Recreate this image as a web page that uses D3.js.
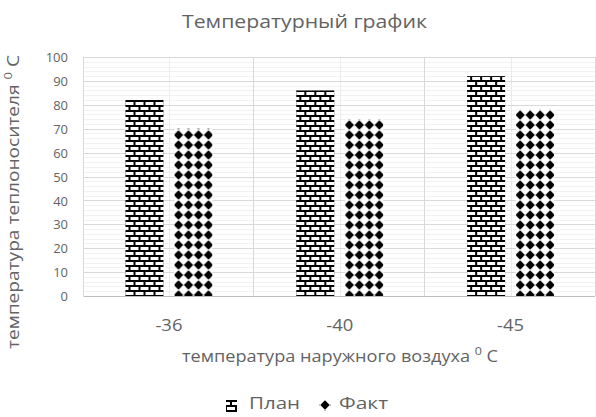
<!DOCTYPE html>
<html>
<head>
<meta charset="utf-8">
<script src="https://cdn.jsdelivr.net/npm/d3@7"></script>
<style>
  html, body { margin: 0; padding: 0; background: #fff; }
  svg { display: block; }
  text { font-family: "Open Sans", "Noto Sans", sans-serif; fill: #636363; }
</style>
</head>
<body>
<svg id="chart" width="596" height="417"></svg>
<script>
// Outdoor air temperature categories and coolant temperatures
const categories = ["-36", "-40", "-45"];
const seriesNames = ["План", "Факт"];
const planValues = [82, 86, 92];
const factValues = [70, 74, 78];
const yTicks = [0, 10, 20, 30, 40, 50, 60, 70, 80, 90, 100];

const svg = d3.select("#chart");
const plot = { left: 83.5, right: 596, top: 57, bottom: 296 };

// Fill patterns: horizontal brick and diamond grid
const defs = svg.append("defs");
const brick = defs.append("pattern")
  .attr("id", "brick").attr("patternUnits", "userSpaceOnUse")
  .attr("width", 10).attr("height", 10);
brick.append("rect").attr("width", 10).attr("height", 10).attr("fill", "#fff");
brick.append("path")
  .attr("d", "M0,1 H10 M0,6 H10 M1,1 V6 M6,6 V11")
  .attr("stroke", "#000").attr("stroke-width", 2).attr("fill", "none")
  .attr("shape-rendering", "crispEdges");

const diamond = defs.append("pattern")
  .attr("id", "diamond").attr("patternUnits", "userSpaceOnUse")
  .attr("width", 10).attr("height", 10);
diamond.append("rect").attr("width", 10).attr("height", 10).attr("fill", "#fff");
diamond.append("path")
  .attr("d", "M5,0.3 L9.7,5 L5,9.7 L0.3,5 Z")
  .attr("fill", "#000");

const fills = ["url(#brick)", "url(#diamond)"];

const x0 = d3.scaleBand().domain(categories).range([plot.left, plot.right])
  .paddingInner(0).paddingOuter(0);
const x1 = d3.scaleBand().domain(seriesNames).range([0, x0.bandwidth()])
  .paddingInner(0.224).paddingOuter(0.857);
const y = d3.scaleLinear().domain([0, 100]).range([plot.bottom, plot.top]);

const px = v => Math.round(v) + 0.5;

// Minor horizontal gridlines every 2
const g = svg.append("g");
g.selectAll("line.minor")
  .data(d3.range(0, 101, 2).filter(v => v % 10 !== 0))
  .join("line")
  .attr("x1", plot.left).attr("x2", plot.right - 1)
  .attr("y1", d => px(y(d))).attr("y2", d => px(y(d)))
  .attr("stroke", "#f2f2f2");

// Vertical gridlines at category centres (minor) and boundaries (major)
g.selectAll("line.vminor")
  .data(categories)
  .join("line")
  .attr("x1", d => px(x0(d) + x0.bandwidth() / 2))
  .attr("x2", d => px(x0(d) + x0.bandwidth() / 2))
  .attr("y1", plot.top).attr("y2", plot.bottom)
  .attr("stroke", "#ececec");

g.selectAll("line.vmajor")
  .data(d3.range(categories.length + 1))
  .join("line")
  .attr("x1", i => Math.round(plot.left + i * x0.bandwidth()) - 0.5)
  .attr("x2", i => Math.round(plot.left + i * x0.bandwidth()) - 0.5)
  .attr("y1", plot.top).attr("y2", plot.bottom)
  .attr("stroke", "#d9d9d9");

// Major horizontal gridlines
g.selectAll("line.major")
  .data(yTicks)
  .join("line")
  .attr("x1", plot.left).attr("x2", plot.right - 1)
  .attr("y1", d => px(y(d))).attr("y2", d => px(y(d)))
  .attr("stroke", d => d === 0 ? "#bfbfbf" : "#d9d9d9");

// Bars
const rows = categories.map((c, i) => ({ cat: c, values: [planValues[i], factValues[i]] }));
svg.append("g").selectAll("g")
  .data(rows)
  .join("g")
  .attr("transform", d => `translate(${x0(d.cat)},0)`)
  .selectAll("rect")
  .data(d => d.values.map((v, k) => ({ name: seriesNames[k], value: v, k })))
  .join("rect")
  .attr("x", d => x1(d.name))
  .attr("width", x1.bandwidth())
  .attr("y", d => y(d.value))
  .attr("height", d => y(0) - y(d.value))
  .attr("fill", d => fills[d.k]);

// Y axis labels
const yAxis = svg.append("g")
  .attr("transform", "translate(68,0)")
  .call(d3.axisLeft(y).tickValues(yTicks).tickSize(0).tickPadding(0));
yAxis.select(".domain").remove();
yAxis.selectAll("text")
  .attr("x", 0).attr("dy", "0.36em")
  .style("font-size", "13px").attr("fill", "#636363");

// X axis labels, widened to the chart's text proportions
const xAxis = svg.append("g")
  .attr("transform", `translate(0,${plot.bottom})`)
  .call(d3.axisBottom(x0).tickSize(0).tickPadding(0));
xAxis.select(".domain").remove();
xAxis.selectAll("text")
  .attr("y", 35).attr("dy", 0)
  .style("font-size", "16px").attr("fill", "#636363")
  .attr("textLength", 27).attr("lengthAdjust", "spacingAndGlyphs");

// Title
svg.append("text")
  .attr("x", 304.5).attr("y", 28)
  .attr("text-anchor", "middle")
  .style("font-size", "18px")
  .attr("textLength", 245).attr("lengthAdjust", "spacingAndGlyphs")
  .text("Температурный график");

// Axis titles with superscript degree zero
function axisTitle(sel, main, len) {
  sel.attr("textLength", len).attr("lengthAdjust", "spacingAndGlyphs");
  sel.append("tspan").text(main);
  sel.append("tspan").attr("dy", -7).style("font-size", "11px").text("0");
  sel.append("tspan").attr("dy", 7).text(" C");
}
svg.append("text")
  .attr("x", 340).attr("y", 361.5)
  .attr("text-anchor", "middle")
  .style("font-size", "16px")
  .call(axisTitle, "температура наружного воздуха ", 316);

svg.append("text")
  .attr("transform", "translate(19,202) rotate(-90)")
  .attr("text-anchor", "middle")
  .style("font-size", "16px")
  .call(axisTitle, "температура теплоносителя ", 294);

// Legend: keys are cut from the same fill patterns
const legend = svg.append("g");
const legendItems = [
  { name: seriesNames[0], fill: fills[0], key: [226, 400, 11, 12], tx: 249, len: 51 },
  { name: seriesNames[1], fill: fills[1], key: [319, 400, 12, 11], tx: 339, len: 49 }
];
legendItems.forEach(it => {
  legend.append("rect")
    .attr("x", it.key[0]).attr("y", it.key[1])
    .attr("width", it.key[2]).attr("height", it.key[3])
    .attr("fill", it.fill);
  legend.append("text")
    .attr("x", it.tx).attr("y", 409)
    .style("font-size", "16px")
    .attr("textLength", it.len).attr("lengthAdjust", "spacingAndGlyphs")
    .text(it.name);
});
</script>
</body>
</html>
